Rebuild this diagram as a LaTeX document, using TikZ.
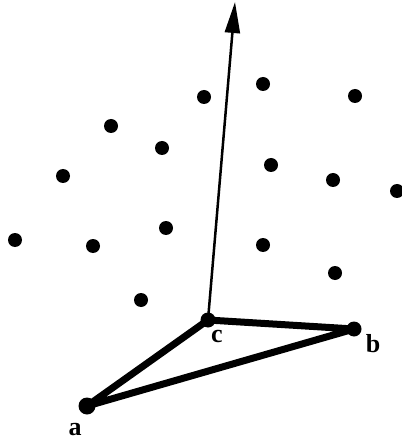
\documentclass[tikz,border=0pt]{standalone}
\usepackage{fontspec}
\setmainfont{Liberation Serif}
\usetikzlibrary{arrows.meta}
\usetikzlibrary{positioning}

\begin{document}
\begin{tikzpicture}[x=1pt, y=-1pt,
    pt/.style={circle, fill=black, inner sep=0pt, minimum size=14pt},
    vtx/.style={circle, fill=black, inner sep=0pt, minimum size=15pt},
    lbl/.style={font=\fontsize{26}{26}\selectfont\bfseries}]
        \useasboundingbox (0,0) rectangle (401,443);
        % scattered points
        \node [pt] (p1) at (204,97) {};
        \node [pt] (p2) at (263,84) {};
        \node [pt] (p3) at (355,96) {};
        \node [pt] (p4) at (111,126) {};
        \node [pt] (p5) at (162,148) {};
        \node [pt] (p6) at (63,176) {};
        \node [pt] (p7) at (271,165) {};
        \node [pt] (p8) at (333,180) {};
        \node [pt] (p9) at (397,191) {};
        \node [pt] (p10) at (15,240) {};
        \node [pt] (p11) at (93,246) {};
        \node [pt] (p12) at (166,228) {};
        \node [pt] (p13) at (263,245) {};
        \node [pt] (p14) at (335,273) {};
        \node [pt] (p15) at (141,300) {};
        % triangle
        \node [vtx] (c) at (208,320) {};
        \node [vtx] (b) at (354,329) {};
        \node [vtx, minimum size=17pt] (a) at (87,406) {};
        \coordinate (top) at (235,2);
        \draw [line width=7pt, line join=round] (a.center) -- (c.center) -- (b.center) -- cycle;
        \draw [-{Triangle[length=31pt, width=15pt]}, line width=2.5pt] (c.center) -- (top);
        \node [lbl] (lc) at (217,336) {c};
        \node [lbl] (lb) at (373,344) {b};
        \node [lbl] (la) at (75,430) {a};
\end{tikzpicture}
\end{document}
